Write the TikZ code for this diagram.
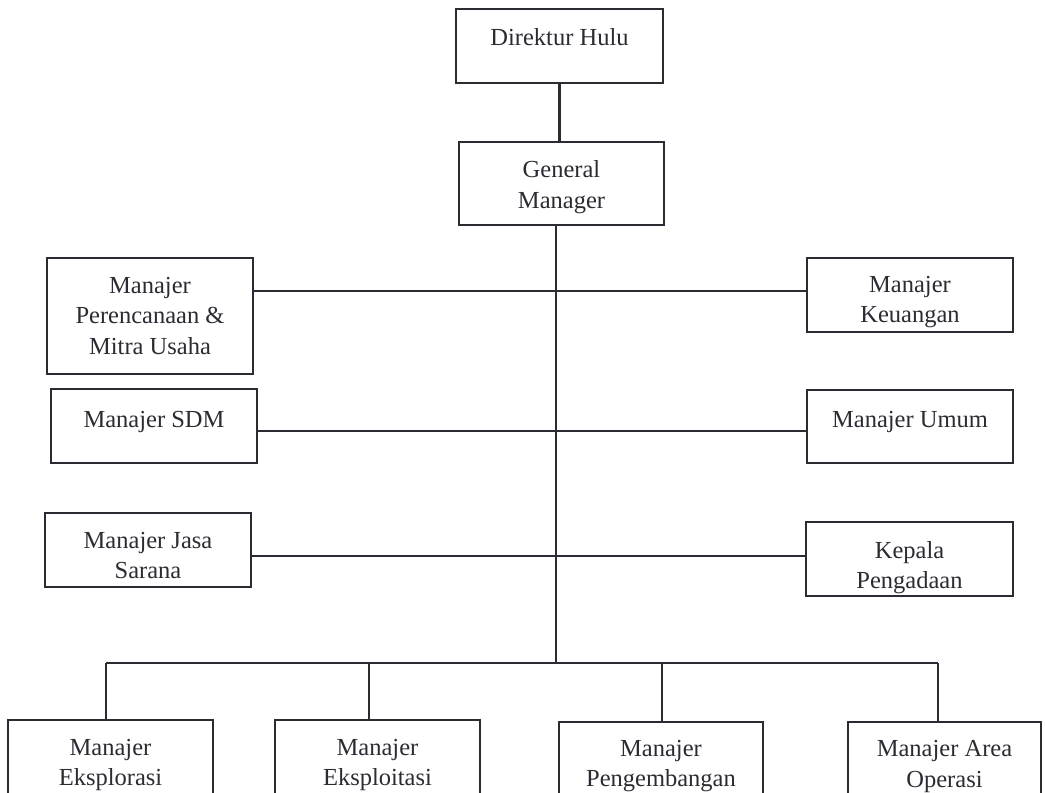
\documentclass[tikz,border=0pt]{standalone}
\usepackage{fontspec}
\setmainfont{Liberation Serif}
\definecolor{ink}{HTML}{2B2B33}
% invisible struts that set where the text sits inside its box
\newcommand\topstrut[1]{\rule{0pt}{#1}}
\newcommand\botstrut[1]{\rule[-#1]{0pt}{0pt}}
\begin{document}
\begin{tikzpicture}[x=1pt,y=-1pt,
  unit/.style={draw=ink, line width=2.3pt, text=ink, inner sep=0pt, align=center,
    font=\fontsize{24.5}{30.5}\selectfont},
  link/.style={draw=ink, line width=2.3pt}]
\useasboundingbox (0,0) rectangle (1045,793);
\clip (0,0) rectangle (1045,793);
% box helper: corners (x1,y1) and (x2,y2)
\newcommand\orgbox[6]{%
  \node[unit, minimum width={#4-#2}, minimum height={#5-#3}] (#1)
    at ({(#2+#4)/2},{(#3+#5)/2}) {#6};}
\orgbox{dir}{456}{9}{663}{83}{Direktur Hulu\botstrut{18pt}}
\orgbox{gm}{459}{142}{664}{225}{\topstrut{24pt}General\\Manager}
\orgbox{mpm}{47}{258}{253}{374}{Manajer\\Perencanaan \&\\Mitra Usaha}
\orgbox{sdm}{51}{389}{257}{463}{Manajer SDM\botstrut{14pt}}
\orgbox{mjs}{45}{513}{251}{587}{\topstrut{27pt}Manajer Jasa\\Sarana}
\orgbox{keu}{807}{258}{1013}{332}{\topstrut{30pt}Manajer\\Keuangan}
\orgbox{umum}{807}{390}{1013}{463}{Manajer Umum\botstrut{14pt}}
\orgbox{kep}{806}{522}{1013}{596}{\topstrut{34pt}Kepala\\Pengadaan}
\orgbox{eksplor}{8}{720}{213}{805}{\topstrut{21pt}Manajer\\Eksplorasi}
\orgbox{eksploit}{275}{720}{480}{805}{\topstrut{21pt}Manajer\\Eksploitasi}
\orgbox{kembang}{559}{722}{763}{805}{\topstrut{21pt}Manajer\\Pengembangan}
\orgbox{area}{848}{722}{1041}{805}{\topstrut{22pt}Manajer Area\\Operasi}
% trunk and branch points
\coordinate (bus) at (556,663);
\coordinate (r1) at (556,291);
\coordinate (r2) at (556,431);
\coordinate (r3) at (556,556);
\coordinate (b1) at (106,663);
\coordinate (b2) at (369,663);
\coordinate (b3) at (662,663);
\coordinate (b4) at (938,663);
\draw[link] (dir.south) -- (dir.south |- gm.north);
\draw[link] (gm.south -| bus) -- (bus);
\draw[link] (mpm.east |- r1) -- (keu.west |- r1);
\draw[link] (sdm.east |- r2) -- (umum.west |- r2);
\draw[link] (mjs.east |- r3) -- (kep.west |- r3);
\draw[link] (b1) -- (b4);
\draw[link] (b1) -- (b1 |- eksplor.north);
\draw[link] (b2) -- (b2 |- eksploit.north);
\draw[link] (b3) -- (b3 |- kembang.north);
\draw[link] (b4) -- (b4 |- area.north);
\end{tikzpicture}
\end{document}
